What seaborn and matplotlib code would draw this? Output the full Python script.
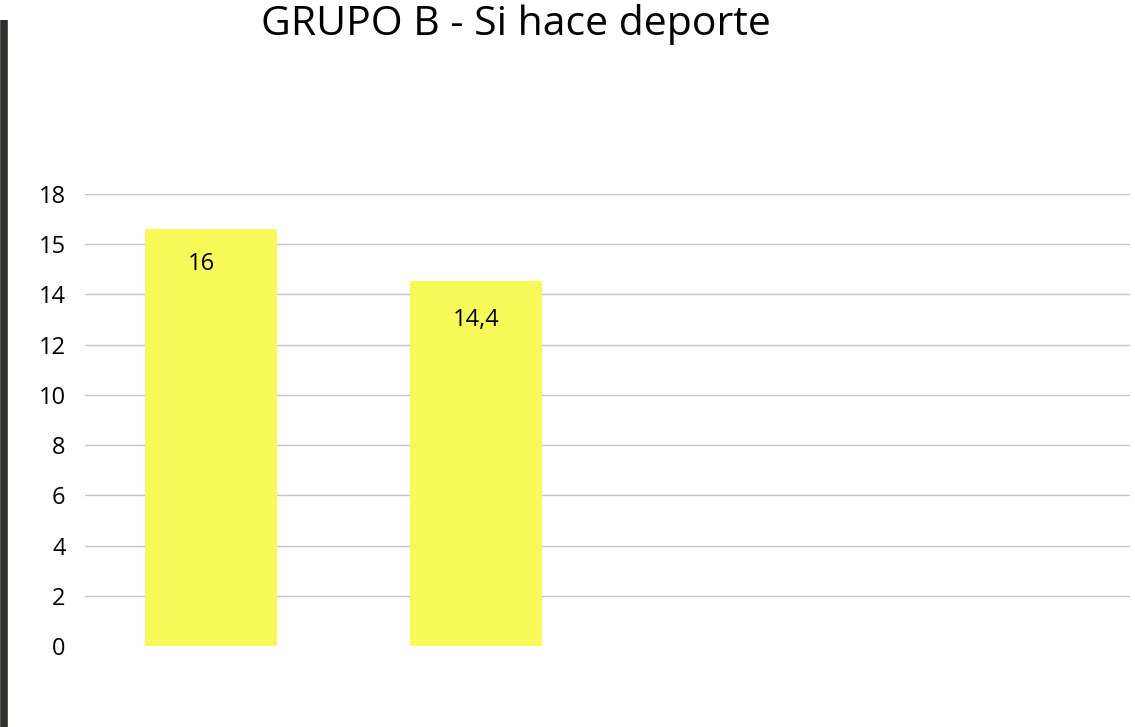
import pandas as pd
import matplotlib.pyplot as plt
from matplotlib.lines import Line2D
import seaborn as sns

# values (bar tops in axis units), and the texts printed on them
categories = ['Categoría 1', 'Categoría 2']
slots = ['Categoría 1', 'Categoría 2', 'Categoría 3', 'Categoría 4']
heights = [16.6, 14.55]
bar_labels = ['16', '14,4']
tick_values = [0, 2, 4, 6, 8, 10, 12, 14, 16, 18]
tick_labels = ['0', '2', '4', '6', '8', '10', '12', '14', '15', '18']

df = pd.DataFrame({'cat': categories, 'value': heights})

sns.set_style('white')
plt.rcParams['font.family'] = ['Open Sans', 'DejaVu Sans']

fig = plt.figure(figsize=(11.35, 7.27), dpi=100)
ax = fig.add_axes([0.0749, 0.1114, 0.9207, 0.6217])

sns.barplot(data=df, x='cat', y='value', order=slots, color='#f9f95a',
            saturation=1, width=0.5, ax=ax, zorder=3)
for p in ax.patches:
    p.set_edgecolor('none')

ax.set_xlim(-0.475, 3.47)
ax.set_ylim(0, 18)
ax.set_yticks(tick_values)
ax.set_yticklabels(tick_labels, fontsize=17, color='black')
ax.set_xticks([])
ax.set_xlabel('')
ax.set_ylabel('')
ax.tick_params(axis='y', length=0, pad=14)
ax.grid(axis='y', color='#c4c4c4', linewidth=1, zorder=0)
ax.yaxis.get_gridlines()[0].set_visible(False)
ax.set_axisbelow(True)
for s in ax.spines.values():
    s.set_visible(False)

# numbers inside the bars
for p, lab, dx, dy in zip(ax.patches, bar_labels, [-7, 0], [-25, -28]):
    ax.annotate(lab, (p.get_x() + p.get_width() / 2, p.get_height()),
                xytext=(dx, dy), textcoords='offset points',
                ha='center', va='center', fontsize=17, color='black')

# thick dark line at the left edge
fig.add_artist(Line2D([0.0031, 0.0031], [0, 0.972], color='#30302c', linewidth=5.5,
                      solid_capstyle='butt', transform=fig.transFigure))

fig.text(0.455, 0.966, 'GRUPO B - Si hace deporte', ha='center', va='center',
         fontsize=29.5, color='black')

plt.savefig('out.png', dpi=100)
